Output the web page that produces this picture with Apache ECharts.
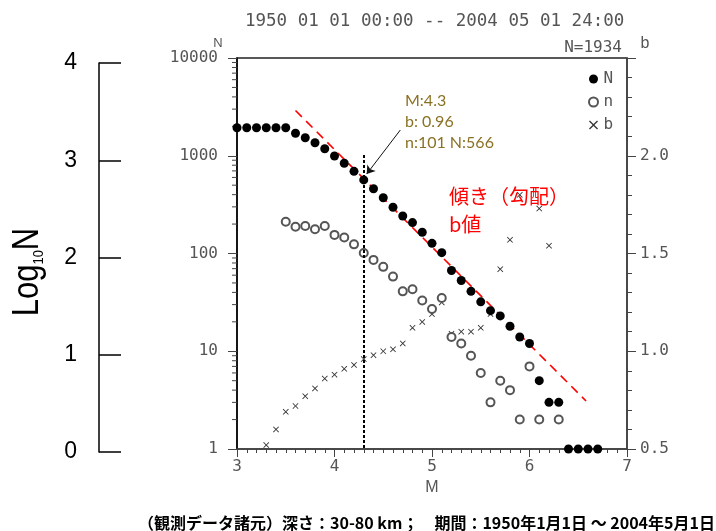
<!DOCTYPE html>
<html>
<head>
<meta charset="utf-8">
<title>M-N chart</title>
<script src="https://cdn.jsdelivr.net/npm/echarts@6/dist/echarts.min.js"></script>
<style>
    html, body { margin: 0; padding: 0; background: #fff; }
    #chart { width: 716px; height: 531px; }
</style>
</head>
<body>
<div id="chart"></div>
<script>
// マグニチュード（0.1刻み）
var mags = [3.0, 3.1, 3.2, 3.3, 3.4, 3.5, 3.6, 3.7, 3.8, 3.9,
            4.0, 4.1, 4.2, 4.3, 4.4, 4.5, 4.6, 4.7, 4.8, 4.9,
            5.0, 5.1, 5.2, 5.3, 5.4, 5.5, 5.6, 5.7, 5.8, 5.9,
            6.0, 6.1, 6.2, 6.3, 6.4, 6.5, 6.6, 6.7];
// 積算個数 N
var cumN = [1934, 1934, 1934, 1934, 1934, 1934, 1700, 1530, 1360, 1180,
            994, 837, 693, 566, 460, 372, 297, 242, 207, 165,
            127, 102, 67, 53, 41, 32, 26, 23, 18, 14,
            12, 5, 3, 3, 1, 1, 1, 1];
// 個数 n
var binN = [null, null, null, null, null, 211, 188, 191, 177, 191,
            155, 146, 124, 101, 86, 73, 58, 41, 43, 33,
            27, 35, 14, 12, 9, 6, 3, 5, 4, 2,
            7, 2, null, 2, null, null, null, null];
// b値
var bVals = [null, null, null, 0.52, 0.60, 0.69, 0.72, 0.77, 0.81, 0.86,
             0.88, 0.91, 0.93, 0.96, 0.98, 1.00, 1.01, 1.04, 1.12, 1.15,
             1.19, 1.25, 1.09, 1.10, 1.10, 1.12, 1.19, 1.42, 1.57, 1.80,
             null, 1.73, 1.54, null, null, null, null, null];
// 傾きの直線（端点）
var fitLine = [[3.6, 2900], [6.58, 3.1]];
// 対数軸の補助目盛
var logMinorTicks = [2, 3, 4, 5, 6, 7, 8, 9, 20, 30, 40, 50, 60, 70, 80, 90,
                     200, 300, 400, 500, 600, 700, 800, 900,
                     2000, 3000, 4000, 5000, 6000, 7000, 8000, 9000];
var log10Ticks = [0, 1, 2, 3, 4];

function pairs(vals) {
    var out = [];
    mags.forEach(function (m, i) {
        if (vals[i] != null) out.push([m, vals[i]]);
    });
    return out;
}

var gray = '#555';
var labelFont = 'DejaVu Sans Mono';
var crossPath = 'path://M0,1L1,0L5,4L9,0L10,1L6,5L10,9L9,10L5,6L1,10L0,9L4,5Z';
var tStyle = { fontFamily: labelFont, fontSize: 16, color: gray };

var chart = echarts.init(document.getElementById('chart'));

chart.setOption({
    animation: false,
    textStyle: { fontFamily: labelFont, fontSize: 15 },
    title: [{
        text: '1950 01 01 00:00 -- 2004 05 01 24:00',
        left: 240,
        top: 7,
        textStyle: { fontFamily: 'DejaVu Sans Mono', fontSize: 17.5, fontWeight: 'normal', color: gray }
    }, {
        text: '（観測データ諸元）深さ：30-80 km；　期間：1950年1月1日 ～ 2004年5月1日',
        left: 133,
        top: 510,
        textStyle: { fontFamily: 'Noto Sans CJK JP', fontSize: 16, fontWeight: 'bold', color: '#000' }
    }],
    legend: {
        data: ['N', 'n', 'b'],
        orient: 'vertical',
        left: 583,
        top: 66,
        itemWidth: 10,
        itemHeight: 9,
        itemGap: 7,
        formatter: '{t|{name}}',
        textStyle: { fontFamily: labelFont, fontSize: 16, color: gray, rich: { t: tStyle } }
    },
    grid: [{
        left: 237, right: 89, top: 58, bottom: 82,
        show: true, borderColor: '#222', borderWidth: 1.5
    }, {
        left: 99, width: 20, top: 63, bottom: 79
    }],
    xAxis: [{
        type: 'value',
        min: 3, max: 7, interval: 1,
        name: 'M',
        nameLocation: 'middle',
        nameGap: 31,
        nameTextStyle: { fontFamily: 'Liberation Sans', fontSize: 16, color: gray },
        axisLine: { lineStyle: { color: '#444', width: 1.5 } },
        axisTick: { length: 8, lineStyle: { color: '#444' } },
        minorTick: { show: true, splitNumber: 10, length: 4, lineStyle: { color: '#444' } },
        axisLabel: { fontFamily: labelFont, fontSize: 16, color: gray, margin: 10 },
        splitLine: { show: false }
    }, {
        gridIndex: 1, type: 'value', min: 0, max: 1, show: false
    }],
    yAxis: [{
        type: 'log',
        logBase: 10,
        min: 1, max: 10000,
        name: 'N',
        nameLocation: 'end',
        nameGap: 4,
        nameTextStyle: { fontFamily: 'Liberation Sans', fontSize: 13, color: gray, padding: [0, 38, 0, 0] },
        axisLine: { show: true, lineStyle: { color: '#000', width: 1.5 } },
        axisTick: { length: 9, lineStyle: { color: '#444' } },
        axisLabel: {
            fontFamily: labelFont, fontSize: 16, color: gray, margin: 19,
            formatter: function (v) { return '{t|' + Math.round(v) + '}'; },
            rich: { t: tStyle }
        },
        splitLine: { show: false }
    }, {
        type: 'value',
        position: 'right',
        min: 0.5, max: 2.5, interval: 0.5,
        name: 'b',
        nameLocation: 'end',
        nameGap: 6,
        nameTextStyle: { fontFamily: 'Liberation Sans', fontSize: 16, color: gray, padding: [0, 0, 0, 36] },
        axisLine: { show: true, lineStyle: { color: '#444', width: 1.5 } },
        axisTick: { length: 9, lineStyle: { color: '#444' } },
        minorTick: { show: true, splitNumber: 5, length: 5, lineStyle: { color: '#444' } },
        axisLabel: {
            fontFamily: labelFont, fontSize: 16, color: gray, margin: 13,
            showMaxLabel: false,
            formatter: function (v) { return v.toFixed(1); }
        },
        splitLine: { show: false }
    }, {
        gridIndex: 1,
        type: 'value',
        min: log10Ticks[0], max: log10Ticks[log10Ticks.length - 1], interval: 1,
        axisLine: { show: true, lineStyle: { color: '#000', width: 1.5 } },
        axisTick: { inside: true, length: 22, lineStyle: { color: '#000', width: 1.5 } },
        axisLabel: { fontFamily: 'Liberation Sans', fontSize: 23, color: '#000', margin: 22 },
        splitLine: { show: false }
    }],
    series: [{
        name: 'logTicks',
        type: 'custom',
        silent: true,
        clip: false,
        data: logMinorTicks.map(function (v) { return [3, v]; }),
        renderItem: function (params, api) {
            var p = api.coord([api.value(0), api.value(1)]);
            return {
                type: 'line',
                shape: { x1: p[0] - 5, y1: p[1], x2: p[0], y2: p[1] },
                style: { stroke: '#444', lineWidth: 1 }
            };
        }
    }, {
        name: 'fit',
        type: 'line',
        data: fitLine,
        symbol: 'none',
        silent: true,
        lineStyle: { color: '#ff0000', width: 1.6, type: [9, 6] },
        z: 1
    }, {
        name: 'b',
        type: 'scatter',
        yAxisIndex: 1,
        clip: false,
        data: pairs(bVals),
        symbol: crossPath,
        symbolSize: 6,
        itemStyle: { color: '#333', opacity: 1 }
    }, {
        name: 'n',
        type: 'scatter',
        clip: false,
        data: pairs(binN),
        symbol: 'emptyCircle',
        symbolSize: 8,
        itemStyle: { color: gray, borderWidth: 1.2, opacity: 1 }
    }, {
        name: 'N',
        type: 'scatter',
        clip: false,
        data: pairs(cumN),
        symbol: 'circle',
        symbolSize: 9,
        itemStyle: { color: '#000', opacity: 1 },
        markLine: {
            silent: true,
            animation: false,
            label: { show: false },
            symbol: ['none', 'arrow'],
            symbolSize: 8,
            data: [
                [{ coord: [4.3, 1020], symbol: 'none', lineStyle: { color: '#000', width: 2, type: [3, 2] } },
                 { coord: [4.3, 1], symbol: 'none' }],
                [{ coord: [4.675, 1834], lineStyle: { color: '#111', width: 1, type: 'solid' } },
                 { coord: [4.33, 650] }]
            ]
        }
    }],
    graphic: [{
        type: 'text',
        x: 622, y: 48,
        style: {
            text: 'N=1934', fill: gray,
            fontFamily: 'DejaVu Sans Mono', fontSize: 16,
            textAlign: 'right', textVerticalAlign: 'middle'
        }
    }, {
        type: 'text',
        x: 405, y: 122,
        style: {
            text: 'M:4.3\nb: 0.96\nn:101 N:566', fill: '#8a7224',
            fontFamily: 'Lato', fontSize: 16, lineHeight: 21,
            textAlign: 'left', textVerticalAlign: 'middle'
        }
    }, {
        type: 'text',
        x: 449, y: 210,
        style: {
            text: '傾き（勾配）\nb値', fill: '#ff0000',
            fontFamily: 'Noto Sans CJK JP', fontSize: 20, lineHeight: 28,
            textAlign: 'left', textVerticalAlign: 'middle'
        }
    }, {
        type: 'text',
        x: 28, y: 272,
        rotation: Math.PI / 2,
        scaleX: 0.86,
        style: {
            text: '{a|Log}{s|10}{a|N}',
            rich: {
                a: { fontFamily: 'Liberation Sans', fontSize: 36, fill: '#000', verticalAlign: 'bottom' },
                s: { fontFamily: 'Liberation Sans', fontSize: 15, fill: '#000', verticalAlign: 'bottom' }
            },
            textAlign: 'center', textVerticalAlign: 'middle'
        }
    }]
});
</script>
</body>
</html>
